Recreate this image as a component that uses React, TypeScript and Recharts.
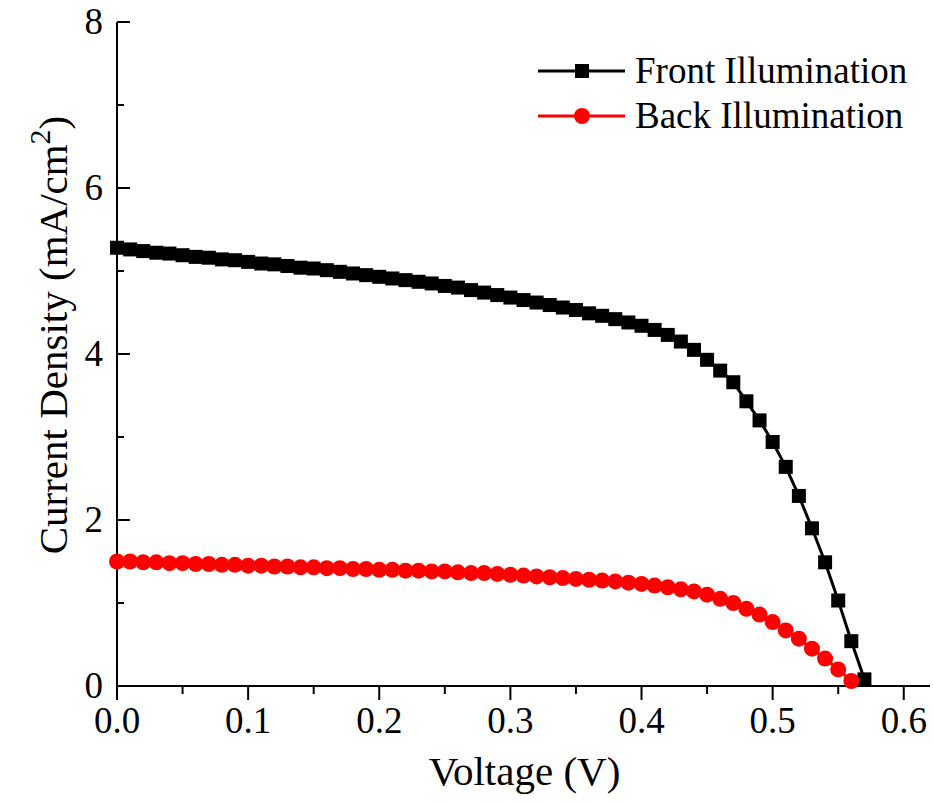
import { Label, Legend, Line, LineChart, XAxis, YAxis } from "recharts";

const FONT = "'Liberation Serif', 'Times New Roman', serif";

// voltage steps (V)
const voltage = [
  0, 0.01, 0.02, 0.03, 0.04, 0.05, 0.06, 0.07, 0.08, 0.09,
  0.1, 0.11, 0.12, 0.13, 0.14, 0.15, 0.16, 0.17, 0.18, 0.19,
  0.2, 0.21, 0.22, 0.23, 0.24, 0.25, 0.26, 0.27, 0.28, 0.29,
  0.3, 0.31, 0.32, 0.33, 0.34, 0.35, 0.36, 0.37, 0.38, 0.39,
  0.4, 0.41, 0.42, 0.43, 0.44, 0.45, 0.46, 0.47, 0.48, 0.49,
  0.5, 0.51, 0.52, 0.53, 0.54, 0.55, 0.56, 0.57,
];

// current density (mA/cm2), front illumination
const frontJ = [
  5.28, 5.26, 5.24, 5.22, 5.21, 5.19, 5.17, 5.16, 5.14, 5.13,
  5.11, 5.09, 5.08, 5.06, 5.04, 5.03, 5.01, 4.99, 4.97, 4.95,
  4.93, 4.91, 4.89, 4.87, 4.85, 4.82, 4.8, 4.77, 4.74, 4.71,
  4.68, 4.65, 4.62, 4.59, 4.56, 4.53, 4.49, 4.46, 4.42, 4.38,
  4.34, 4.29, 4.23, 4.15, 4.05, 3.93, 3.8, 3.66, 3.43, 3.2,
  2.94, 2.64, 2.29, 1.9, 1.49, 1.03, 0.54, 0.08,
];

// current density (mA/cm2), back illumination
const backJ = [
  1.5, 1.5, 1.49, 1.49, 1.48, 1.48, 1.47, 1.47, 1.46, 1.46,
  1.45, 1.45, 1.44, 1.44, 1.43, 1.43, 1.42, 1.42, 1.41, 1.41,
  1.4, 1.4, 1.39, 1.39, 1.38, 1.38, 1.37, 1.36, 1.36, 1.35,
  1.34, 1.33, 1.32, 1.31, 1.3, 1.29, 1.28, 1.27, 1.26, 1.245,
  1.23, 1.21, 1.19, 1.165, 1.14, 1.1, 1.05, 1.0, 0.93, 0.86,
  0.77, 0.67, 0.57, 0.45, 0.33, 0.2, 0.06,
];

const seriesNames = ["Front Illumination", "Back Illumination"];
const xTicks = [0, 0.05, 0.1, 0.15, 0.2, 0.25, 0.3, 0.35, 0.4, 0.45, 0.5, 0.55, 0.6];
const yTicks = [0, 1, 2, 3, 4, 5, 6, 7, 8];

const frontData = frontJ.map((j, i) => ({ v: voltage[i], j }));
const backData = backJ.map((j, i) => ({ v: voltage[i], j }));

function XTick(props: any) {
  const { x, y, payload } = props;
  const v = payload.value;
  const major = Math.abs(v * 10 - Math.round(v * 10)) < 1e-6;
  return (
    <g>
      <line x1={x} x2={x} y1={y} y2={y + (major ? 14 : 8)} stroke="#000" strokeWidth={2} />
      {major && (
        <text x={x} y={y + 47} textAnchor="middle" fontSize={37} fontFamily={FONT} fill="#000">
          {v.toFixed(1)}
        </text>
      )}
    </g>
  );
}

function YTick(props: any) {
  const { x, y, payload } = props;
  const v = payload.value;
  const major = v % 2 === 0;
  return (
    <g>
      <line x1={x} x2={x + (major ? 13 : 7)} y1={y} y2={y} stroke="#000" strokeWidth={2} />
      {major && (
        <text x={x - 14} y={y + 12} textAnchor="end" fontSize={37} fontFamily={FONT} fill="#000">
          {v}
        </text>
      )}
    </g>
  );
}

function YLabel(props: any) {
  const vb = props.viewBox;
  const cy = vb.y + vb.height / 2 - 19;
  return (
    <text
      transform={`translate(67, ${cy}) rotate(-90)`}
      textAnchor="middle"
      fontSize={41}
      fontFamily={FONT}
      fill="#000"
    >
      Current Density (mA/cm
      <tspan fontSize={30} dy={-17}>2</tspan>
      <tspan dy={17}>)</tspan>
    </text>
  );
}

function XLabel(props: any) {
  const vb = props.viewBox;
  return (
    <text
      x={vb.x + vb.width / 2 + 1}
      y={vb.y + 99}
      textAnchor="middle"
      fontSize={41}
      fontFamily={FONT}
      fill="#000"
    >
      Voltage (V)
    </text>
  );
}

function SquareDot(props: any) {
  const { cx, cy, index } = props;
  return <rect key={`sq-${index}`} x={cx - 7} y={cy - 7} width={14} height={14} fill="#000" />;
}

function LegendBox(props: any) {
  const items = [...(props.payload || [])].sort(
    (a: any, b: any) => seriesNames.indexOf(a.value) - seriesNames.indexOf(b.value)
  );
  return (
    <svg width={400} height={100}>
      {items.map((it: any, i: number) => {
        const cy = 31 + i * 45;
        return (
          <g key={it.value}>
            <line x1={8} x2={95} y1={cy} y2={cy} stroke={it.color} strokeWidth={3} />
            {i === 0 ? (
              <rect x={45} y={cy - 7} width={14} height={14} fill={it.color} />
            ) : (
              <circle cx={52} cy={cy} r={8} fill={it.color} />
            )}
            <text x={105} y={cy + 12} fontSize={37} fontFamily={FONT} fill="#000">
              {it.value}
            </text>
          </g>
        );
      })}
    </svg>
  );
}

export default function App() {
  return (
    <div style={{ position: "absolute", left: 0, top: 0, background: "#fff" }}>
      <LineChart width={933} height={802} margin={{ top: 22, right: 3, left: 0, bottom: 0 }}>
        <XAxis
          type="number"
          dataKey="v"
          domain={[0, 0.62]}
          ticks={xTicks}
          interval={0}
          height={116}
          tickSize={0}
          tickMargin={0}
          tickLine={false}
          tick={<XTick />}
          axisLine={{ stroke: "#000", strokeWidth: 2 }}
          allowDuplicatedCategory={false}
        >
          <Label content={<XLabel />} />
        </XAxis>
        <YAxis
          type="number"
          dataKey="j"
          domain={[0, 8]}
          ticks={yTicks}
          interval={0}
          width={117}
          tickSize={0}
          tickMargin={0}
          tickLine={false}
          tick={<YTick />}
          axisLine={{ stroke: "#000", strokeWidth: 2 }}
        >
          <Label content={<YLabel />} />
        </YAxis>
        <Legend
          layout="horizontal"
          verticalAlign="middle"
          content={<LegendBox />}
          wrapperStyle={{ position: "absolute", top: 40, left: 530, width: 400 }}
        />
        <Line
          data={frontData}
          dataKey="j"
          name={seriesNames[0]}
          type="linear"
          stroke="#000"
          strokeWidth={3}
          dot={<SquareDot />}
          activeDot={false}
          isAnimationActive={false}
        />
        <Line
          data={backData}
          dataKey="j"
          name={seriesNames[1]}
          type="linear"
          stroke="#ff0000"
          strokeWidth={3}
          dot={{ r: 8, fill: "#ff0000", stroke: "none" }}
          activeDot={false}
          isAnimationActive={false}
        />
      </LineChart>
    </div>
  );
}
